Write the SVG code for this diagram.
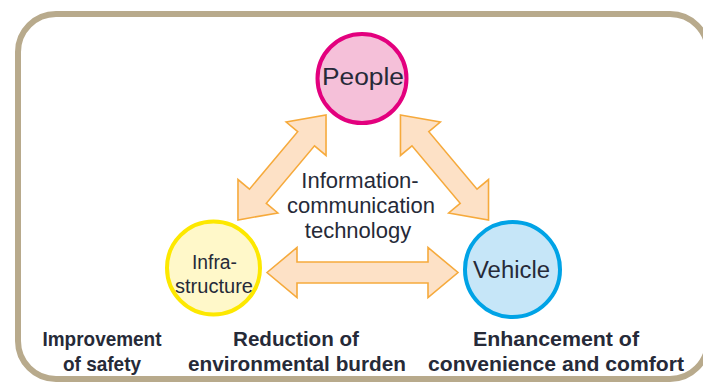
<svg xmlns="http://www.w3.org/2000/svg" width="703" height="385" viewBox="0 0 703 385">
<defs>
<style>
.frame{fill:#ffffff;stroke:#b8aa8c;stroke-width:6}
.arr{fill:#fde1c6;stroke:#f6aa3c;stroke-width:1.6;stroke-linejoin:miter}
.t{font-family:"Liberation Sans",Arial,sans-serif;fill:#262a38;text-anchor:middle}
.node{font-size:23px}
.small{font-size:20px}
.mid{font-size:22px}
.lab{font-size:21px;font-weight:bold}
</style>
</defs>
<rect width="703" height="385" fill="#ffffff"/>
<rect class="frame" x="18" y="14" width="690" height="365" rx="38" ry="38"/>
<g id="connectors">
<polygon id="arrow-infra-people" class="arr" transform="translate(282,167.5) rotate(-50)" points="-68.5,0 -37.5,-26 -37.5,-11 37.5,-11 37.5,-26 68.5,0 37.5,26 37.5,11 -37.5,11 -37.5,26"/>
<polygon id="arrow-people-vehicle" class="arr" transform="translate(444.5,167.5) rotate(50)" points="-68.5,0 -37.5,-26 -37.5,-11 37.5,-11 37.5,-26 68.5,0 37.5,26 37.5,11 -37.5,11 -37.5,26"/>
<polygon id="arrow-infra-vehicle" class="arr" transform="translate(362.5,272.5)" points="-95.5,0 -65.5,-25 -65.5,-10.5 65.5,-10.5 65.5,-25 95.5,0 65.5,25 65.5,10.5 -65.5,10.5 -65.5,25"/>
</g>
<g id="people">
<circle cx="362" cy="78.5" r="44.5" fill="#f5c0d9" stroke="#e3007e" stroke-width="4"/>
<text class="t node" x="363" y="85" textLength="82" lengthAdjust="spacingAndGlyphs">People</text>
</g>
<g id="infrastructure">
<circle cx="213.5" cy="268" r="46.5" fill="#fff8c9" stroke="#fde800" stroke-width="4"/>
<text class="t small" x="214.5" y="269" textLength="45" lengthAdjust="spacingAndGlyphs">Infra-</text>
<text class="t small" x="214" y="293" textLength="78" lengthAdjust="spacingAndGlyphs">structure</text>
</g>
<g id="vehicle">
<circle cx="512.5" cy="269.5" r="47.5" fill="#c6e6f8" stroke="#00a3e6" stroke-width="4"/>
<text class="t node" x="511.5" y="278" textLength="77" lengthAdjust="spacingAndGlyphs">Vehicle</text>
</g>
<g id="ict">
<text class="t mid" x="360" y="188">Information-</text>
<text class="t mid" x="361" y="213">communication</text>
<text class="t mid" x="358" y="238">technology</text>
</g>
<g id="labels">
<text class="t lab" x="102" y="346" textLength="119" lengthAdjust="spacingAndGlyphs">Improvement</text>
<text class="t lab" x="102" y="371" textLength="78" lengthAdjust="spacingAndGlyphs">of safety</text>
<text class="t lab" x="296" y="346" textLength="126" lengthAdjust="spacingAndGlyphs">Reduction of</text>
<text class="t lab" x="297" y="371" textLength="218" lengthAdjust="spacingAndGlyphs">environmental burden</text>
<text class="t lab" x="556" y="346" textLength="166" lengthAdjust="spacingAndGlyphs">Enhancement of</text>
<text class="t lab" x="556" y="371" textLength="256" lengthAdjust="spacingAndGlyphs">convenience and comfort</text>
</g>
</svg>
